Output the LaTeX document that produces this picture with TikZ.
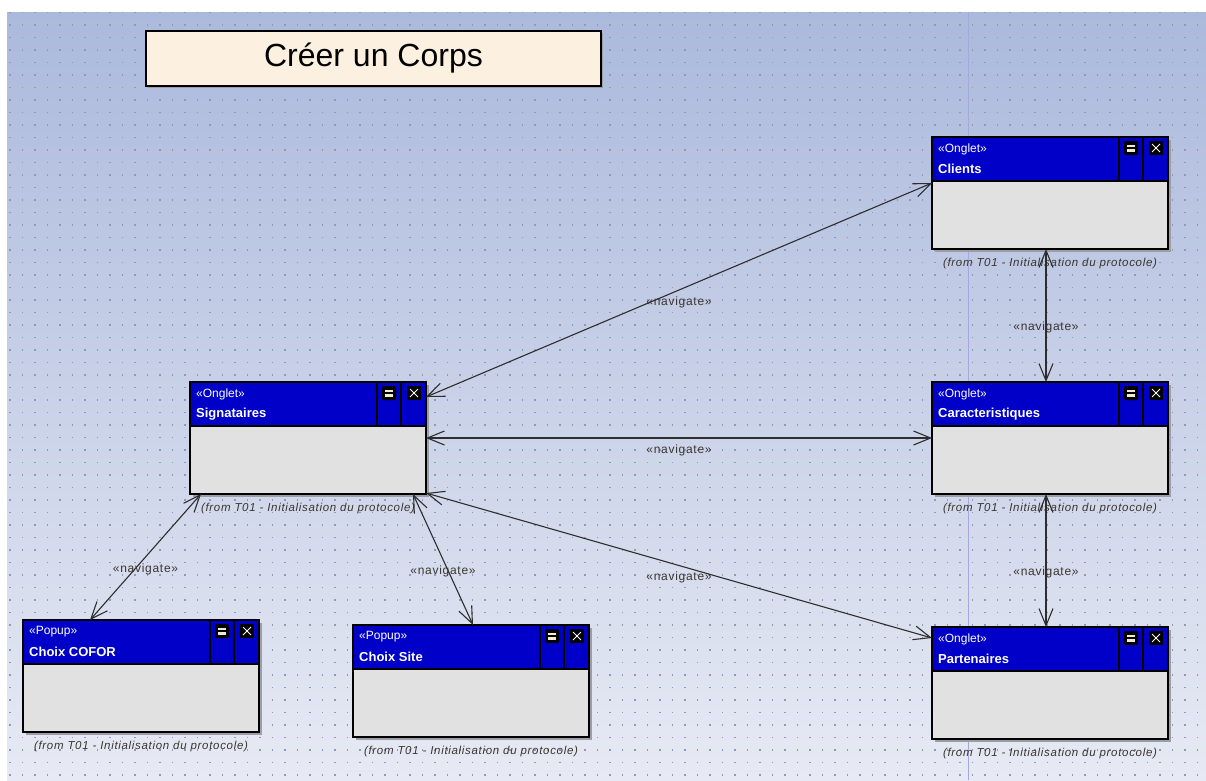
\documentclass[tikz,border=0pt]{standalone}
\usepackage{fontspec}
\setmainfont{Liberation Sans}
\newfontfamily\spaced[LetterSpace=6]{Liberation Sans}
\usetikzlibrary{arrows.meta,calc}

\definecolor{bgtop}{HTML}{ABB9DC}
\definecolor{bgbot}{HTML}{E7EAF4}
\definecolor{dotc}{HTML}{8F9AB6}
\definecolor{eablue}{HTML}{0000C8}
\definecolor{bodyc}{HTML}{E1E1E1}
\definecolor{shadowc}{HTML}{9C9EA6}
\definecolor{titlec}{HTML}{FCF0E1}
\definecolor{iconc}{HTML}{F2EAD2}
\definecolor{pagec}{HTML}{A4A8DC}
\definecolor{linec}{HTML}{2E2E2E}
\definecolor{labelc}{HTML}{3A3530}

\tikzset{
  win/.style={fill=bodyc, minimum width=236pt, minimum height=112pt,
    inner sep=0pt, outer sep=0pt, anchor=north west},
  border/.style={line width=2.5pt, line join=miter},
  divider/.style={line width=2pt},
  stereo/.style={anchor=west, inner sep=0pt, text=white, font=\fontsize{12}{14}\selectfont},
  wtitle/.style={anchor=west, inner sep=0pt, text=white, font=\fontsize{13}{15}\selectfont\bfseries},
  from/.style={inner sep=0pt, text=labelc, font=\fontsize{11.5}{13}\spaced\itshape},
  nav/.style={inner sep=0pt, yshift=-12pt, text=labelc, font=\fontsize{12}{14}\spaced}
}

% one "window" element: name, left, top, stereotype, title
\newcommand\eawindow[5]{
  \fill[shadowc] (#2+3,#3+3) rectangle (#2+239,#3+115);
  \node[win] (#1) at (#2,#3) {};
  \fill[eablue] (#1.north west) rectangle ([yshift=-44pt]#1.north east);
  \draw[divider] ([xshift=-49pt]#1.north east) -- ([xshift=-49pt,yshift=-44pt]#1.north east);
  \draw[divider] ([xshift=-25pt]#1.north east) -- ([xshift=-25pt,yshift=-44pt]#1.north east);
  \draw[border] ([yshift=-44pt]#1.north west) -- ([yshift=-44pt]#1.north east);
  \draw[border] (#1.north west) rectangle (#1.south east);
  % header icons
  \fill[black, rounded corners=1.5pt] ([xshift=-44pt,yshift=-4pt]#1.north east) rectangle ([xshift=-30pt,yshift=-18pt]#1.north east);
  \fill[iconc] ([xshift=-41pt,yshift=-7.5pt]#1.north east) rectangle ([xshift=-33pt,yshift=-10pt]#1.north east);
  \fill[iconc] ([xshift=-41pt,yshift=-12pt]#1.north east) rectangle ([xshift=-33pt,yshift=-14.5pt]#1.north east);
  \fill[black] ([xshift=-19pt,yshift=-4pt]#1.north east) rectangle ([xshift=-5pt,yshift=-18pt]#1.north east);
  \draw[white, line width=0.9pt] ([xshift=-16pt,yshift=-7pt]#1.north east) -- ([xshift=-8pt,yshift=-15pt]#1.north east)
    ([xshift=-16pt,yshift=-15pt]#1.north east) -- ([xshift=-8pt,yshift=-7pt]#1.north east);
  \node[stereo] (#1-st) at ([xshift=6pt,yshift=-12pt]#1.north west) {«#4»};
  \node[wtitle] (#1-ti) at ([xshift=6pt,yshift=-32pt]#1.north west) {#5};
  \node[from] (#1-fr) at ([yshift=-15pt]#1.south) {(from T01 - Initialisation du protocole)};
}

\begin{document}
\begin{tikzpicture}[x=1pt, y=-1pt]
  \useasboundingbox (0,0) rectangle (1206,780);
  % background and grid
  \fill[white] (0,0) rectangle (1206,780);
  \shade[top color=bgtop, bottom color=bgbot] (7,12) rectangle (1206,780);
  \foreach \y in {12.5,25,...,775}
    \foreach \x in {10,22.5,...,1204}
      \fill[dotc] (\x-0.6,\y-0.6) rectangle ++(1.2,1.2);
  \draw[pagec, line width=0.8pt] (968,12) -- (968,780);

  % title
  \fill[shadowc] (148,33) rectangle (603,88);
  \node[fill=titlec, draw, line width=2pt, minimum width=455pt, minimum height=55pt,
    anchor=north west, inner sep=0pt, font=\fontsize{32}{36}\selectfont] (title) at (145,30) {Créer un Corps};

  % windows
  \eawindow{clients}{932}{137}{Onglet}{Clients}
  \eawindow{carac}{932}{382}{Onglet}{Caracteristiques}
  \eawindow{sign}{190}{382}{Onglet}{Signataires}
  \eawindow{part}{932}{627}{Onglet}{Partenaires}
  \eawindow{cofor}{23}{620}{Popup}{Choix COFOR}
  \eawindow{site}{353}{625}{Popup}{Choix Site}

  % navigation links
  \begin{scope}[{Straight Barb[length=17pt,width=14pt]}-{Straight Barb[length=17pt,width=14pt]}, linec, line width=1.1pt]
    \draw ([yshift=-15pt]sign.north east) to node[nav] {«navigate»} ([yshift=-46pt]clients.north west);
    \draw ([xshift=-4pt]clients.south) to node[nav] {«navigate»} ([xshift=-4pt]carac.north);
    \draw (sign.east) to node[nav] {«navigate»} (carac.west);
    \draw ([yshift=1pt]sign.south east) to node[nav] {«navigate»} ([yshift=-11pt]part.north west);
    \draw ([xshift=-4pt]carac.south) to node[nav] {«navigate»} ([xshift=-4pt]part.north);
    \draw ([xshift=11pt]sign.south west) to node[nav] {«navigate»} ([xshift=67pt]cofor.north west);
    \draw ([xshift=-13pt]sign.south east) to node[nav] {«navigate»} ([xshift=120pt]site.north west);
  \end{scope}
\end{tikzpicture}
\end{document}
